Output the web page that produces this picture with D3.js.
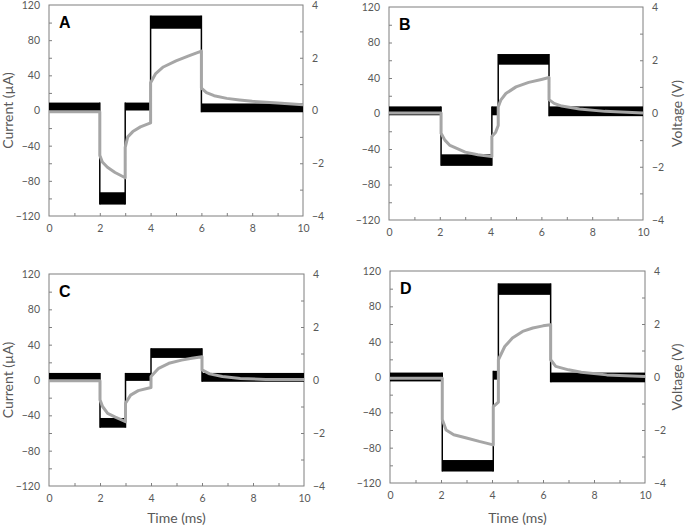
<!DOCTYPE html>
<html><head><meta charset="utf-8">
<script src="https://cdn.jsdelivr.net/npm/d3@7"></script>
<style>body{margin:0;background:#fff}svg{display:block}</style>
</head><body><svg id="c" width="685" height="527"></svg>
<script>
// ---- data ----
const panelLabels = ["A", "B", "C", "D"];
const timeTicks = [0, 2, 4, 6, 8, 10];
const currentTicks = [-120, -80, -40, 0, 40, 80, 120];
const voltageTicks = [-4, -2, 0, 2, 4];
// current (µA) noisy steps: [tStart, tEnd, low, high]
const currentA = [[0, 2, -1, 9], [2, 3, -107, -93], [3, 4, 0, 9], [4, 6, 93, 108], [6, 10, -2, 8]];
const currentB = [[0, 2.05, -2, 8], [2.05, 4.05, -59, -46], [4.05, 4.3, -2, 8], [4.3, 6.3, 55, 67], [6.3, 10, -3, 8]];
const currentC = [[0, 2, -1, 8], [2, 3, -54, -43], [3, 4, -1, 8], [4, 6, 25, 36], [6, 10, -2, 8]];
const currentD = [[0, 2.05, -5, 5], [2.05, 4.05, -107, -94], [4.05, 4.25, -3, 7], [4.25, 6.3, 93, 106], [6.3, 10, -6, 5]];
// voltage (V) traces: [t, V]
const voltageA = [[0, -0.05], [2, -0.05], [2.0, -1.7], [2.1, -1.95], [2.3, -2.15], [2.6, -2.35], [3, -2.55], [3, -1.4], [3.1, -1.0], [3.3, -0.8], [3.6, -0.62], [4, -0.47], [4, 1.05], [4.2, 1.4], [4.5, 1.65], [5, 1.88], [5.5, 2.07], [6, 2.25], [6, 0.85], [6.2, 0.68], [6.5, 0.56], [7, 0.46], [7.5, 0.4], [8, 0.35], [9, 0.28], [10, 0.22]];
const voltageB = [[0, 0.02], [2.05, 0.02], [2.05, -0.74], [2.2, -1.0], [2.4, -1.2], [3, -1.45], [3.5, -1.55], [4.05, -1.62], [4.05, -0.86], [4.2, -0.7], [4.3, -0.45], [4.3, 0.25], [4.4, 0.5], [4.6, 0.75], [5, 1.0], [5.5, 1.17], [6, 1.28], [6.3, 1.35], [6.3, 0.52], [6.5, 0.38], [6.8, 0.28], [7.5, 0.17], [8.5, 0.08], [10, 0.02]];
const voltageC = [[0, -0.03], [2, -0.03], [2, -0.75], [2.1, -1.0], [2.3, -1.26], [2.6, -1.4], [3, -1.57], [3, -0.88], [3.2, -0.57], [3.5, -0.4], [4, -0.28], [4, 0.13], [4.3, 0.44], [4.7, 0.63], [5.2, 0.75], [5.6, 0.82], [6, 0.88], [6, 0.38], [6.3, 0.23], [6.8, 0.13], [7.5, 0.06], [8.5, 0.02], [10, 0.02]];
const voltageD = [[0, -0.05], [2.05, -0.05], [2.05, -1.6], [2.2, -2.0], [2.5, -2.18], [3, -2.3], [3.5, -2.43], [4.05, -2.56], [4.05, -1.12], [4.25, -0.95], [4.25, 0.65], [4.5, 1.15], [4.8, 1.47], [5.2, 1.72], [5.6, 1.85], [6, 1.93], [6.3, 1.97], [6.3, 0.65], [6.5, 0.4], [7, 0.27], [7.5, 0.18], [8.5, 0.08], [10, 0.02]];

const currents = [currentA, currentB, currentC, currentD];
const voltages = [voltageA, voltageB, voltageC, voltageD];

// ---- layout ----
const boxes = [
  {x0: 49, x1: 303, y0: 5, y1: 216, leftTitle: true, rightTitle: false, bottomTitle: false},
  {x0: 389, x1: 643, y0: 7, y1: 220, leftTitle: false, rightTitle: true, bottomTitle: false},
  {x0: 49, x1: 304, y0: 274, y1: 486, leftTitle: true, rightTitle: false, bottomTitle: true},
  {x0: 390, x1: 645, y0: 271, y1: 483, leftTitle: false, rightTitle: true, bottomTitle: true}
];
const axisColor = "#7f7f7f", textColor = "#595959", font = "Lato, 'Open Sans', sans-serif";
const svg = d3.select("#c");

boxes.forEach((b, i) => {
  const x = d3.scaleLinear().domain([0, 10]).range([b.x0, b.x1]);
  const yI = d3.scaleLinear().domain([-120, 120]).range([b.y1, b.y0]);
  const yV = d3.scaleLinear().domain([-4, 4]).range([b.y1, b.y0]);
  const g = svg.append("g");

  // frame
  g.append("rect").attr("x", b.x0).attr("y", b.y0).attr("width", b.x1 - b.x0).attr("height", b.y1 - b.y0)
    .attr("fill", "none").attr("stroke", axisColor).attr("stroke-width", 1);

  // axes
  const left = d3.axisLeft(yI).tickValues(currentTicks).tickSize(0).tickPadding(9);
  const gl = g.append("g").attr("transform", `translate(${b.x0},0)`).call(left);
  const right = d3.axisRight(yV).tickValues(voltageTicks).tickSize(0).tickPadding(9);
  const gr = g.append("g").attr("transform", `translate(${b.x1},0)`).call(right);
  const bottom = d3.axisBottom(x).tickValues(timeTicks).tickSize(0).tickPadding(9);
  const gb = g.append("g").attr("transform", `translate(0,${b.y1})`).call(bottom);
  [gl, gr, gb].forEach(a => {
    a.select(".domain").remove();
    a.selectAll("text").attr("fill", textColor).style("font-family", font).style("font-size", "10.5px");
  });
  // inner minor ticks
  const li = d3.axisRight(yI).tickValues(d3.range(-100, 120, 20)).tickSize(3).tickFormat("");
  g.append("g").attr("transform", `translate(${b.x0},0)`).call(li).call(a => { a.select(".domain").remove(); a.selectAll("line").attr("stroke", axisColor); });
  const ri = d3.axisLeft(yV).tickValues(d3.range(-3, 4, 1)).tickSize(3).tickFormat("");
  g.append("g").attr("transform", `translate(${b.x1},0)`).call(ri).call(a => { a.select(".domain").remove(); a.selectAll("line").attr("stroke", axisColor); });
  const bi = d3.axisTop(x).tickValues(d3.range(1, 10, 1)).tickSize(3).tickFormat("");
  g.append("g").attr("transform", `translate(0,${b.y1})`).call(bi).call(a => { a.select(".domain").remove(); a.selectAll("line").attr("stroke", axisColor); });

  // current trace (black noisy band)
  const segs = currents[i];
  g.selectAll("rect.seg").data(segs).enter().append("rect").attr("class", "seg")
    .attr("x", d => x(d[0])).attr("width", d => x(d[1]) - x(d[0]))
    .attr("y", d => yI(d[3])).attr("height", d => yI(d[2]) - yI(d[3]))
    .attr("fill", "#000");
  const trans = segs.slice(1).map((d, k) => [d[0], Math.min(d[2], segs[k][2]), Math.max(d[3], segs[k][3])]);
  g.selectAll("line.tr").data(trans).enter().append("line").attr("class", "tr")
    .attr("x1", d => x(d[0])).attr("x2", d => x(d[0]))
    .attr("y1", d => yI(d[1])).attr("y2", d => yI(d[2]))
    .attr("stroke", "#000").attr("stroke-width", 1.5);

  // voltage trace (gray)
  g.append("path").datum(voltages[i])
    .attr("d", d3.line().x(d => x(d[0])).y(d => yV(d[1])).curve(d3.curveLinear))
    .attr("fill", "none").attr("stroke", "#a6a6a6").attr("stroke-width", 3).attr("stroke-linejoin", "round");

  // panel letter
  g.append("text").attr("x", b.x0 + 10).attr("y", b.y0 + 23).text(panelLabels[i])
    .style("font-family", "Arial, 'Liberation Sans', sans-serif").style("font-weight", "bold").style("font-size", "16px").attr("fill", "#000");

  if (b.leftTitle) {
    g.append("text").attr("transform", `translate(13,${(b.y0 + b.y1) / 2}) rotate(-90)`).attr("text-anchor", "middle")
      .text("Current (µA)").style("font-family", font).style("font-size", "14px").attr("fill", textColor);
  }
  if (b.rightTitle) {
    g.append("text").attr("transform", `translate(682,${(b.y0 + b.y1) / 2}) rotate(-90)`).attr("text-anchor", "middle")
      .text("Voltage (V)").style("font-family", font).style("font-size", "14px").attr("fill", textColor);
  }
  if (b.bottomTitle) {
    g.append("text").attr("x", (b.x0 + b.x1) / 2).attr("y", 523).attr("text-anchor", "middle")
      .text("Time (ms)").style("font-family", font).style("font-size", "14px").attr("fill", textColor);
  }
});
</script></body></html>
